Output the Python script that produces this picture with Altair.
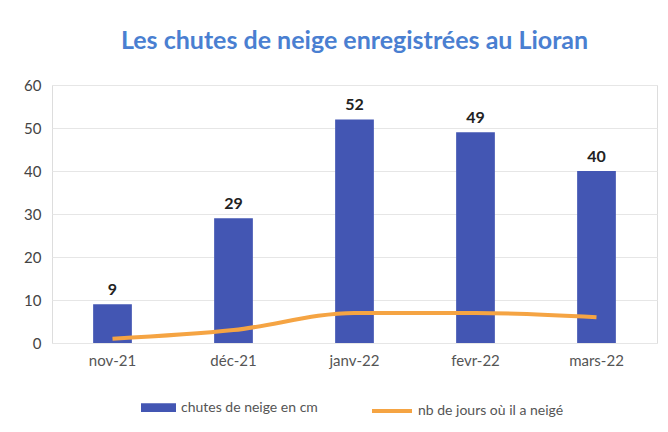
import altair as alt
import pandas as pd

months = ["nov-21", "déc-21", "janv-22", "fevr-22", "mars-22"]
snow_cm = [9, 29, 52, 49, 40]
snow_days = [1, 3, 7, 7, 6]
bar_name = "chutes de neige en cm"
line_name = "nb de jours où il a neigé"

df = pd.DataFrame({"mois": months, "cm": snow_cm, "jours": snow_days,
                   "s1": bar_name, "s2": line_name})

FONT = "Lato"
x = alt.X("mois:N", sort=months, title=None,
          scale=alt.Scale(paddingInner=0.68, paddingOuter=0.34),
          axis=alt.Axis(labelAngle=0, domain=False, ticks=False, labelPadding=10,
                        labelFontSize=15, labelColor="#555555", labelFont=FONT))
yscale = alt.Scale(domain=[0, 60])

bars = alt.Chart(df).mark_bar(color="#4356b3").encode(
    x=x,
    y=alt.Y("cm:Q", scale=yscale, title=None,
            axis=alt.Axis(values=[0, 10, 20, 30, 40, 50, 60], domain=False, ticks=False,
                          labelPadding=11, labelFontSize=15, labelColor="#444444",
                          labelFont=FONT, gridColor="#e6e6e6")),
    fill=alt.Fill("s1:N", scale=alt.Scale(domain=[bar_name], range=["#4356b3"]),
                  legend=alt.Legend(title=None, orient="none", legendX=88, legendY=304,
                                    symbolType="M-1,-0.25H1V0.25H-1Z", symbolSize=1225,
                                    labelFontSize=14, labelColor="#555555", labelFont=FONT,
                                    padding=0)),
)

labels = alt.Chart(df).mark_text(dy=-14, fontSize=16, fontWeight="bold", color="#222222",
                                 font=FONT).encode(
    x=alt.X("mois:N", sort=months), y=alt.Y("cm:Q", scale=yscale), text="cm:Q")

line = alt.Chart(df).mark_line(strokeWidth=4, interpolate="monotone").encode(
    x=alt.X("mois:N", sort=months),
    y=alt.Y("jours:Q", scale=yscale),
    stroke=alt.Stroke("s2:N", scale=alt.Scale(domain=[line_name], range=["#f5a443"]),
                      legend=alt.Legend(title=None, orient="none", legendX=318, legendY=304,
                                        symbolType="stroke", symbolSize=1600,
                                        symbolStrokeWidth=4,
                                        labelFontSize=14, labelColor="#555555",
                                        labelFont=FONT, padding=0)),
)

chart = alt.layer(bars, labels, line).resolve_scale(fill="independent", stroke="independent").properties(
    width=605, height=258,
    autosize=alt.AutoSizeParams(type="none"),
    padding={"left": 44, "top": 77, "right": 3, "bottom": 81},
    title=alt.TitleParams("Les chutes de neige enregistrées au Lioran", fontSize=25,
                          font=FONT, fontWeight="bold", color="#4a7fd1",
                          anchor="middle", offset=24),
).configure_view(stroke=None).configure(background="white")

chart.save("out.html", embed_options={"renderer": "svg", "actions": False})
